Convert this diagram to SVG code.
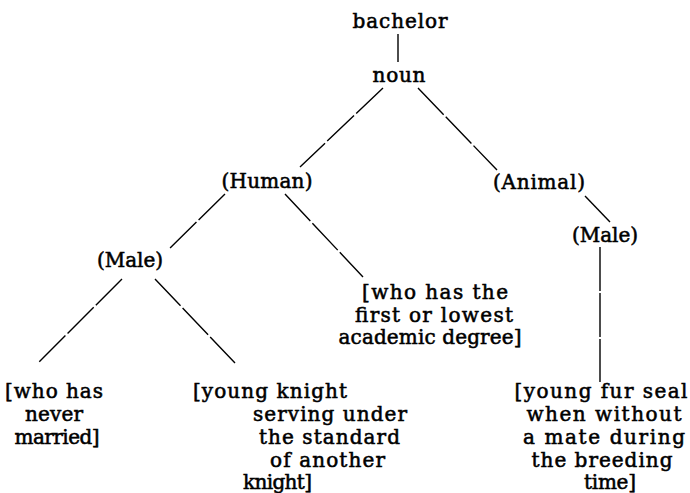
<svg xmlns="http://www.w3.org/2000/svg" width="690" height="493" viewBox="0 0 690 493">
<style>
text{font-family:"DejaVu Serif","Liberation Serif",serif;font-size:20px;fill:#000;stroke:#000;stroke-width:0.55}
.m{text-anchor:middle}
.s{text-anchor:start}
line{stroke:#000;stroke-width:1.4;fill:none}
.d{stroke-dasharray:37 3}
</style>
<rect width="690" height="493" fill="#fff"/>
<g id="connectors">
<line x1="398" y1="34" x2="398" y2="62"/>
<line class="d" x1="383" y1="88" x2="300" y2="167"/>
<line class="d" x1="418" y1="88" x2="497" y2="170"/>
<line class="d" x1="225" y1="194" x2="168" y2="250"/>
<line class="d" x1="285" y1="194" x2="363" y2="277"/>
<line class="d" x1="122" y1="279" x2="38" y2="363"/>
<line class="d" x1="155" y1="279" x2="235" y2="363"/>
<line x1="585" y1="196" x2="610" y2="222"/>
<line class="d" x1="600" y1="247" x2="600" y2="382" style="stroke-dasharray:44 2"/>
</g>
<g id="bachelor"><text class="m" x="400" y="28" textLength="95" lengthAdjust="spacing">bachelor</text></g>
<g id="noun"><text class="m" x="399" y="82" textLength="53" lengthAdjust="spacing">noun</text></g>
<g id="human"><text class="m" x="267" y="188" textLength="91" lengthAdjust="spacing">(Human)</text></g>
<g id="animal"><text class="m" x="539" y="189" textLength="92" lengthAdjust="spacing">(Animal)</text></g>
<g id="male-human"><text class="m" x="130" y="267" textLength="66" lengthAdjust="spacing">(Male)</text></g>
<g id="male-animal"><text class="m" x="605" y="242" textLength="66" lengthAdjust="spacing">(Male)</text></g>
<g id="degree">
<text class="m" x="435" y="299" textLength="146" lengthAdjust="spacing">[who has the</text>
<text class="m" x="434" y="322" textLength="158" lengthAdjust="spacing">first or lowest</text>
<text class="m" x="430" y="344" textLength="183" lengthAdjust="spacing">academic degree]</text>
</g>
<g id="never-married">
<text class="m" x="54" y="398" textLength="98" lengthAdjust="spacing">[who has</text>
<text class="m" x="54" y="421" textLength="58" lengthAdjust="spacing">never</text>
<text class="m" x="57" y="444" textLength="85" lengthAdjust="spacing">married]</text>
</g>
<g id="young-knight">
<text class="s" x="193" y="398" textLength="154" lengthAdjust="spacing">[young knight</text>
<text class="s" x="253" y="421" textLength="154" lengthAdjust="spacing">serving under</text>
<text class="s" x="259" y="444" textLength="141" lengthAdjust="spacing">the standard</text>
<text class="s" x="270" y="467" textLength="115" lengthAdjust="spacing">of another</text>
<text class="s" x="243" y="489" textLength="69" lengthAdjust="spacing">knight]</text>
</g>
<g id="fur-seal">
<text class="m" x="601" y="398" textLength="173" lengthAdjust="spacing">[young fur seal</text>
<text class="m" x="604" y="421" textLength="155" lengthAdjust="spacing">when without</text>
<text class="m" x="604" y="444" textLength="162" lengthAdjust="spacing">a mate during</text>
<text class="m" x="602" y="467" textLength="141" lengthAdjust="spacing">the breeding</text>
<text class="m" x="610" y="489" textLength="52" lengthAdjust="spacing">time]</text>
</g>
</svg>
